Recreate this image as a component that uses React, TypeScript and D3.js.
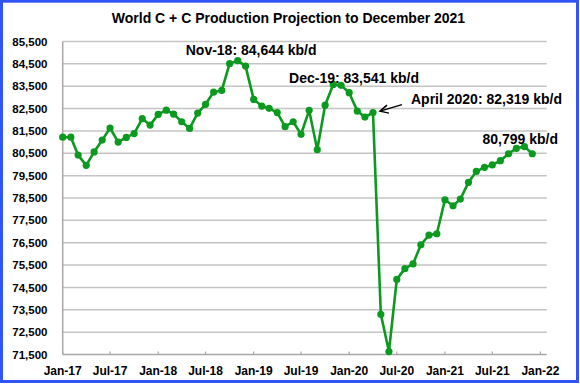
import React from "react";
import * as d3 from "d3";

const title = "World C + C Production Projection to December 2021";
const startYear = 2017;
const prod2017 = [81220, 81220, 80420, 79960, 80560, 81090, 81630, 81000, 81210, 81380, 82050, 81760];
const prod2018 = [82240, 82430, 82250, 81910, 81610, 82300, 82690, 83240, 83310, 84510, 84644, 84400];
const prod2019 = [82910, 82610, 82510, 82320, 81690, 81910, 81350, 82420, 80660, 82650, 83580, 83541];
const prod2020 = [83210, 82390, 82120, 82319, 73300, 71630, 74860, 75340, 75550, 76410, 76840, 76900];
const prod2021 = [78420, 78150, 78450, 79200, 79690, 79870, 79980, 80170, 80480, 80720, 80799, 80480];
const yTicks = [71500, 72500, 73500, 74500, 75500, 76500, 77500, 78500, 79500, 80500, 81500, 82500, 83500, 84500, 85500];
const xTickLabels = ["Jan-17", "Jul-17", "Jan-18", "Jul-18", "Jan-19", "Jul-19", "Jan-20", "Jul-20", "Jan-21", "Jul-21", "Jan-22"];
const annotations = [
  { text: "Nov-18: 84,644 kb/d", month: "Nov-18" },
  { text: "Dec-19: 83,541 kb/d", month: "Dec-19" },
  { text: "April 2020: 82,319 kb/d", month: "Apr-20" },
  { text: "80,799 kb/d", month: "Nov-21" },
];

const W = 580;
const H = 386;
const green = "#0b9a1f";

export default function App() {
  const values = [...prod2017, ...prod2018, ...prod2019, ...prod2020, ...prod2021];
  const data = values.map((v, i) => ({ date: new Date(startYear, i, 1), v }));
  const fmt = d3.timeFormat("%b-%y");
  const parse = d3.timeParse("%b-%y");

  const x = d3.scaleTime().domain([new Date(2017, 0, 1), new Date(2022, 0, 25)]).range([62.7, 546.7]);
  const y = d3.scaleLinear().domain([71500, 85500]).range([354.5, 41.5]);
  const line = d3.line<{ date: Date; v: number }>().x((d) => x(d.date)).y((d) => y(d.v));
  const xTicks = xTickLabels.map((l) => parse(l) as Date);
  const font = "'Liberation Sans', Arial, sans-serif";

  const ann = annotations.map((a) => {
    const d = data.find((p) => fmt(p.date) === a.month)!;
    return { ...a, px: x(d.date), py: y(d.v) };
  });

  return (
    <div style={{ position: "absolute", left: 0, top: 0 }}>
      <svg width={W} height={H} style={{ display: "block", fontFamily: font }}>
        <rect x={0} y={0} width={W} height={H} fill="#fff" />
        <rect x={1.5} y={1.2} width={576} height={380.3} fill="none" stroke="#2f55f5" strokeWidth={3} />
        <text x={288.5} y={23} textAnchor="middle" fontSize={14} fontWeight="bold" fill="#000">
          {title}
        </text>
        {yTicks.map((t) => (
          <g key={t}>
            {t !== 71500 && (
              <line x1={62.7} x2={546.7} y1={y(t)} y2={y(t)} stroke="#c4c4c4" strokeWidth={1.5} />
            )}
            <text x={47.5} y={y(t)} dy="0.36em" textAnchor="end" fontSize={11.5} fontWeight="bold" fill="#000">
              {d3.format(",")(t)}
            </text>
          </g>
        ))}
        <line x1={62.7} x2={62.7} y1={y(85500)} y2={y(71500)} stroke="#a8a8a8" strokeWidth={1.5} />
        <line x1={62.7} x2={546.7} y1={y(71500)} y2={y(71500)} stroke="#a8a8a8" strokeWidth={1.5} />
        {xTicks.map((t, i) => (
          <g key={i}>
            <line x1={x(t)} x2={x(t)} y1={y(71500)} y2={y(71500) - 3} stroke="#a8a8a8" strokeWidth={1.2} />
            <text x={x(t)} y={375} textAnchor="middle" fontSize={12} fontWeight="bold" fill="#000">
              {xTickLabels[i]}
            </text>
          </g>
        ))}
        <path d={line(data) || ""} fill="none" stroke={green} strokeWidth={2.6} strokeLinejoin="round" />
        {data.map((d, i) => (
          <circle key={i} cx={x(d.date)} cy={y(d.v)} r={3.6} fill={green} />
        ))}
        <text x={ann[0].px - 52} y={ann[0].py - 6} fontSize={14} fontWeight="bold" fill="#000">
          {ann[0].text}
        </text>
        <text x={ann[1].px - 52} y={ann[1].py - 2.5} fontSize={14} fontWeight="bold" fill="#000">
          {ann[1].text}
        </text>
        <text x={ann[2].px + 38} y={ann[2].py - 8.5} fontSize={14} fontWeight="bold" fill="#000">
          {ann[2].text}
        </text>
        <line x1={ann[2].px + 29} y1={ann[2].py - 8} x2={ann[2].px + 7} y2={ann[2].py - 1.5} stroke="#000" strokeWidth={1.5} />
        <polyline
          points={`${ann[2].px + 14},${ann[2].py - 7.5} ${ann[2].px + 7},${ann[2].py - 1.5} ${ann[2].px + 16},${ann[2].py + 0.5}`}
          fill="none"
          stroke="#000"
          strokeWidth={1.5}
        />
        <text x={ann[3].px - 42} y={ann[3].py - 2.5} fontSize={14} fontWeight="bold" fill="#000">
          {ann[3].text}
        </text>
      </svg>
    </div>
  );
}
